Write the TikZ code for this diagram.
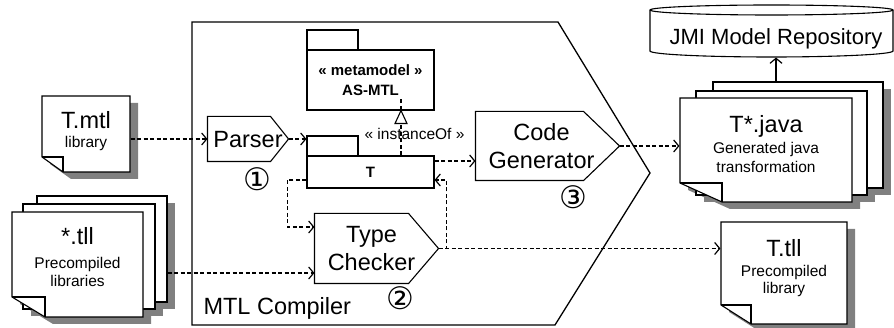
\documentclass[tikz,border=0pt]{standalone}
\usepackage{fontspec}
\setmainfont{Liberation Sans}
\newfontfamily\dejavu{DejaVu Sans}
\usetikzlibrary{arrows.meta}
\newcommand\bigtxt{\fontsize{23.5}{28}\selectfont}
\newcommand\smltxt{\fontsize{15.5}{18.5}\selectfont}
\newcommand\circtxt{\dejavu\fontsize{31}{31}\selectfont}
\definecolor{shadowgray}{gray}{0.5}
\newcommand\notesheet[6]{%
  \filldraw[fill=white] (#1,#2) -- (#3,#2) -- (#3,#4) -- ({#1+#5},#4) -- (#1,{#4-#6}) -- cycle;
  \draw (#1,{#4-#6}) -- ({#1+#5},{#4-#6}) -- ({#1+#5},#4);}
\newcommand\noteshadow[6]{%
  \fill[shadowgray] ({#1+8},{#2+7}) -- ({#3+8},{#2+7}) -- ({#3+8},{#4+7}) -- ({#1+#5+8},{#4+7}) -- ({#1+8},{#4-#6+7}) -- cycle;}
\newcommand\sheetshadow[4]{\fill[shadowgray] ({#1+8},{#2+7}) rectangle ({#3+8},{#4+7});}
\newcommand\plainsheet[4]{\filldraw[fill=white] (#1,#2) rectangle (#3,#4);}
\begin{document}
\begin{tikzpicture}[x=1pt,y=-1pt,line width=1.1pt,
  box/.style={draw,fill=white,inner sep=0pt},
  hold/.style={draw=none,inner sep=0pt},
  pent/.style={draw=none,inner sep=0pt,font=\bigtxt,align=center},
  ttl/.style={anchor=base,font=\bigtxt,inner sep=0pt},
  sub/.style={anchor=base,font=\smltxt,inner sep=0pt},
  pkg/.style={font=\fontsize{15}{20}\selectfont\bfseries,align=center},
  circ/.style={font=\circtxt,inner sep=0pt},
  dep/.style={line width=1.4pt,dash pattern=on 4pt off 2.5pt,
    -{Straight Barb[length=5pt,width=12pt,line width=1.2pt]}},
  inst/.style={line width=1.4pt,dash pattern=on 4pt off 2.5pt},
  solid arrow/.style={-{Straight Barb[length=5pt,width=12pt,line width=1.2pt]}}]
\useasboundingbox (0,0) rectangle (894,328);

% compiler frame
\draw[line width=1.3pt] (192,22) -- (558,22) -- (650,173) -- (555,325) -- (192,325) -- cycle;
\node[anchor=west,font=\bigtxt,inner sep=0pt] (mtlc) at (203,308) {MTL Compiler};

% metamodel package
\node[box,minimum width=51pt,minimum height=20pt] (mtab) at (332.5,40) {};
\node[box,pkg,minimum width=127pt,minimum height=60pt] (meta) at (370.5,80) {« metamodel »\\AS-MTL};

% T package
\node[box,minimum width=51pt,minimum height=20pt] (ttab) at (332.5,146) {};
\node[box,pkg,minimum width=127pt,minimum height=32pt] (tpkg) at (370.5,172) {T};

% Parser
\node[pent,minimum width=80pt,minimum height=44pt,text depth=0pt] (parser) at (248,139) {Parser};
\draw (parser.north west) -- ([xshift=-18pt]parser.north east) -- (parser.east)
  -- ([xshift=-18pt]parser.south east) -- (parser.south west) -- cycle;
\node[circ] (n1) at (257,179) {①};

% Code generator
\node[pent,minimum width=143pt,minimum height=68pt] (cg) at (547.5,146) {\hspace*{-12pt}Code\\\hspace*{-12pt}Generator};
\draw (cg.north west) -- ([xshift=-36pt]cg.north east) -- (cg.east)
  -- ([xshift=-36pt]cg.south east) -- (cg.south west) -- cycle;
\node[circ] (n3) at (573,197) {③};

% Type checker
\node[pent,minimum width=123pt,minimum height=69pt] (tc) at (376.5,248.5) {\hspace*{-10pt}Type\\\hspace*{-10pt}Checker};
\draw (tc.north west) -- ([xshift=-30pt]tc.north east) -- (tc.east)
  -- ([xshift=-30pt]tc.south east) -- (tc.south west) -- cycle;
\node[circ] (n2) at (400,298) {②};

% T.mtl
\noteshadow{42}{96}{130}{172}{21}{15}
\notesheet{42}{96}{130}{172}{21}{15}
\node[hold,minimum width=88pt,minimum height=76pt] (tmtl) at (86,134) {};
\node[ttl] (tmtlA) at (86,128.5) {T.mtl};
\node[sub] (tmtlB) at (86,147.3) {library};

% *.tll stack
\sheetshadow{37}{196}{167}{302}
\sheetshadow{23}{204}{155}{309}
\noteshadow{12}{212}{143}{317}{33}{20}
\plainsheet{37}{196}{167}{302}
\plainsheet{23}{204}{155}{309}
\notesheet{12}{212}{143}{317}{33}{20}
\node[hold,minimum width=130pt,minimum height=106pt] (stllback) at (102,249) {};
\node[ttl] (stllA) at (77.5,245) {*.tll};
\node[sub] (stllB) at (77.5,269) {Precompiled};
\node[sub] (stllC) at (77.5,287) {libraries};

% T*.java stack
\sheetshadow{713}{82}{883}{188}
\sheetshadow{696}{91}{867}{195}
\noteshadow{680}{98}{852}{202}{42}{19}
\plainsheet{713}{82}{883}{188}
\plainsheet{696}{91}{867}{195}
\notesheet{680}{98}{852}{202}{42}{19}
\node[hold,minimum width=170pt,minimum height=106pt] (tjback) at (798,135) {};
\node[hold,minimum width=172pt,minimum height=104pt] (tjava) at (766,150) {};
\node[ttl] (tjA) at (766,133) {T*.java};
\node[sub] (tjB) at (766,154) {Generated java};
\node[sub] (tjC) at (766,172.3) {transformation};

% T.tll
\noteshadow{721}{222}{847}{324}{30}{19}
\notesheet{721}{222}{847}{324}{30}{19}
\node[hold,minimum width=126pt,minimum height=102pt] (ttll) at (784,273) {};
\node[ttl] (ttllA) at (784,256.5) {T.tll};
\node[sub] (ttllB) at (784,276.5) {Precompiled};
\node[sub] (ttllC) at (784,294) {library};

% JMI repository
\draw[fill=white] (650,10) -- (650,51) arc[start angle=180,end angle=360,x radius=121.5pt,y radius=6pt]
  -- (893,10) arc[start angle=0,end angle=180,x radius=121.5pt,y radius=5pt] -- cycle;
\draw (650,10) arc[start angle=180,end angle=360,x radius=121.5pt,y radius=5pt];
\node[hold,minimum width=243pt,minimum height=52pt] (jmi) at (771.5,31) {};
\node[anchor=base,font=\fontsize{22}{26}\selectfont,inner sep=0pt] (jmitext) at (776,45) {JMI Model Repository};

% connectors
\draw[dep] (tmtl.east |- parser.west) -- (parser.west);
\draw[dep] (parser.east) -- (parser.east -| ttab.west);
\coordinate (instA) at ([xshift=30.5pt]tpkg.north);
\coordinate (instB) at ([xshift=30.5pt]meta.south);
\draw[inst] (instA) -- ([yshift=13pt]instB);
\draw[line width=1.1pt,fill=white] (instB) -- ([xshift=-6pt,yshift=-13pt]instB) -- ([xshift=6pt,yshift=-13pt]instB) -- cycle;
\node[font=\smltxt,inner sep=0pt] (instlbl) at (414.5,134) {« instanceOf »};
\draw[dep] ([yshift=11pt]tpkg.east) -- ([yshift=11pt]tpkg.east -| cg.west);
\draw[dep] ([yshift=-8pt]tpkg.west) -- ++(-19,0) |- ([yshift=21.5pt]tc.west);
\draw[dep] (tc.east) -- ++(8,0) |- ([yshift=-8pt]tpkg.east);
\draw[dep] (tc.east) -- (tc.east -| ttll.west);
\coordinate (tcin) at ([yshift=-24.5pt]tc.west);
\draw[dep] (stllback.east |- tcin) -- (tcin);
\draw[dep] (cg.east) -- (cg.east -| tjava.west);
\draw[solid arrow] (jmitext.base |- tjback.north) -- (jmitext.base |- jmi.south);
\end{tikzpicture}
\end{document}
